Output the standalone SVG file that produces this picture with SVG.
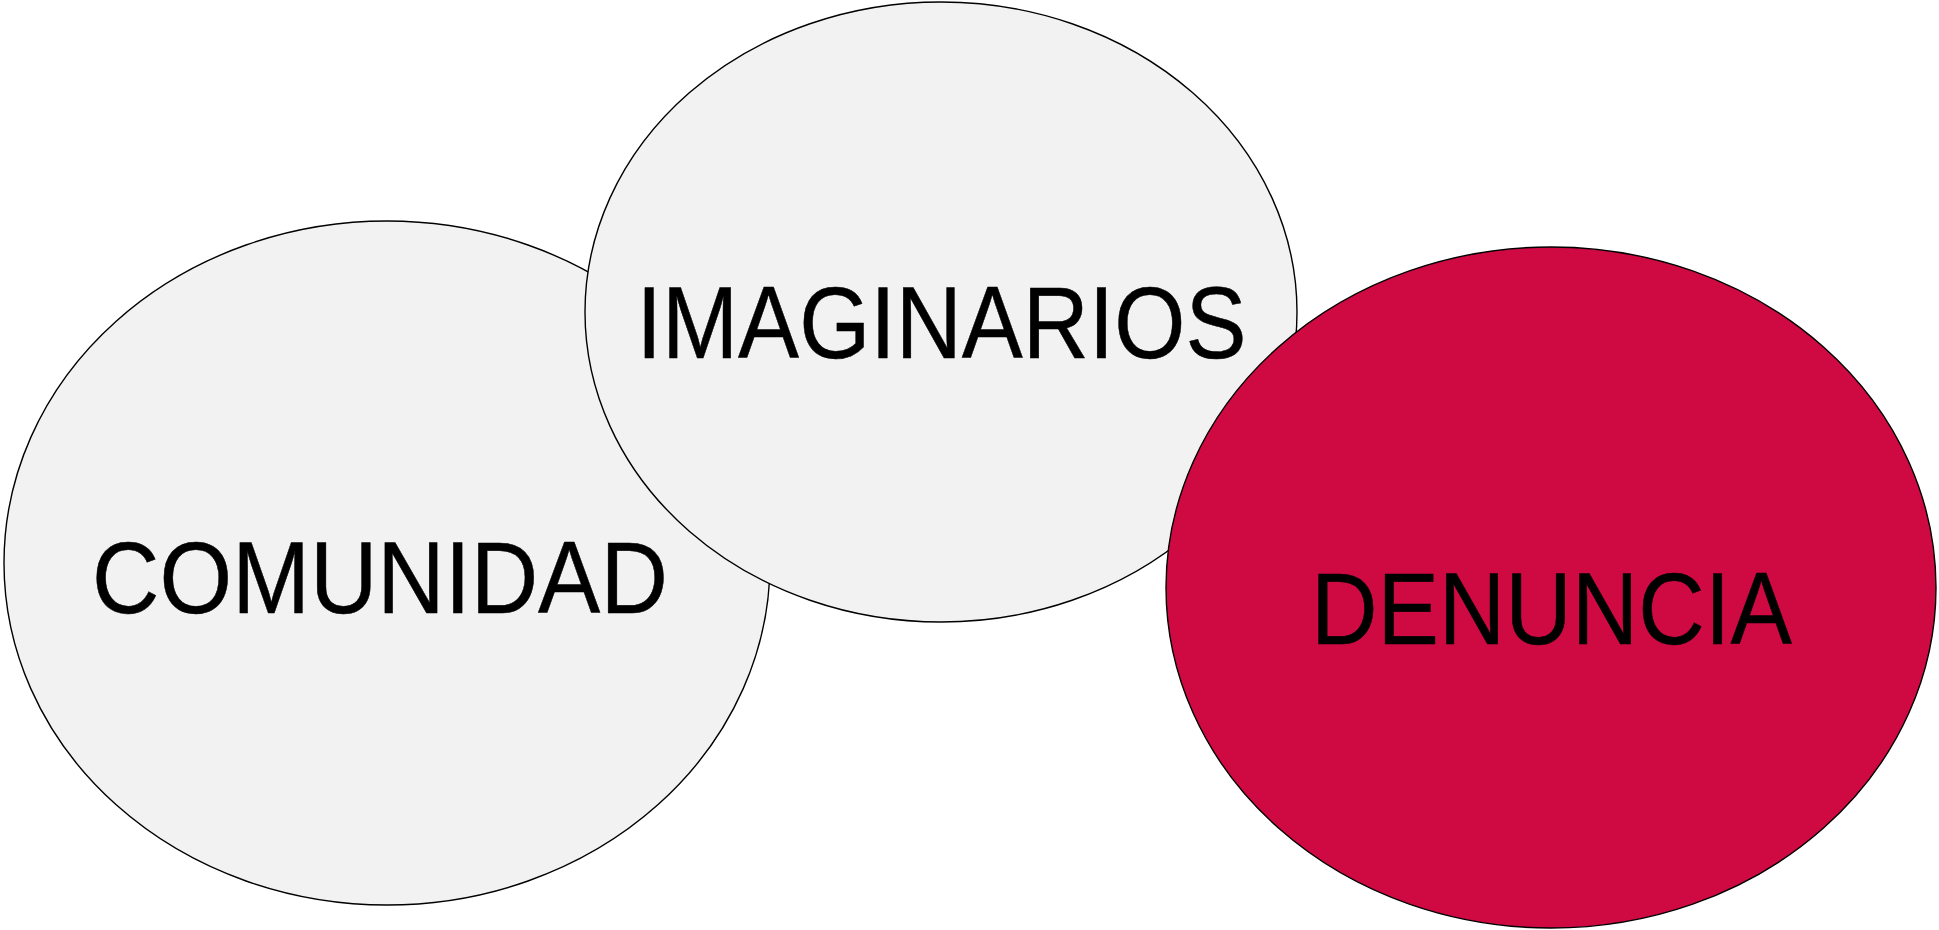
<svg xmlns="http://www.w3.org/2000/svg" width="1939" height="930" viewBox="0 0 1939 930">
<style>
.grey{fill:#f2f2f2;stroke:#000;stroke-width:1.4}
.red{fill:#cf0a43;stroke:#000;stroke-width:1.4}
.lbl{font-family:"Liberation Sans",Arial,sans-serif;font-size:102px;fill:#000;stroke:#000;stroke-width:0.5;stroke-linejoin:round}
</style>
<rect width="1939" height="930" fill="#fff"/>
<g id="comunidad">
<ellipse class="grey" cx="387" cy="563" rx="383" ry="342"/>
<text class="lbl" transform="translate(92.1,613) scale(0.9155,1)">COMUNIDAD</text>
</g>
<g id="imaginarios">
<ellipse class="grey" cx="941" cy="312" rx="356" ry="310"/>
<text class="lbl" transform="translate(636.5,358) scale(0.897,1)">IMAGINARIOS</text>
</g>
<g id="denuncia">
<ellipse class="red" cx="1551" cy="587.5" rx="385" ry="340.5"/>
<text class="lbl" transform="translate(1310.9,644) scale(0.903,1)">DENUNCIA</text>
</g>
<g id="connectors"></g>
</svg>
